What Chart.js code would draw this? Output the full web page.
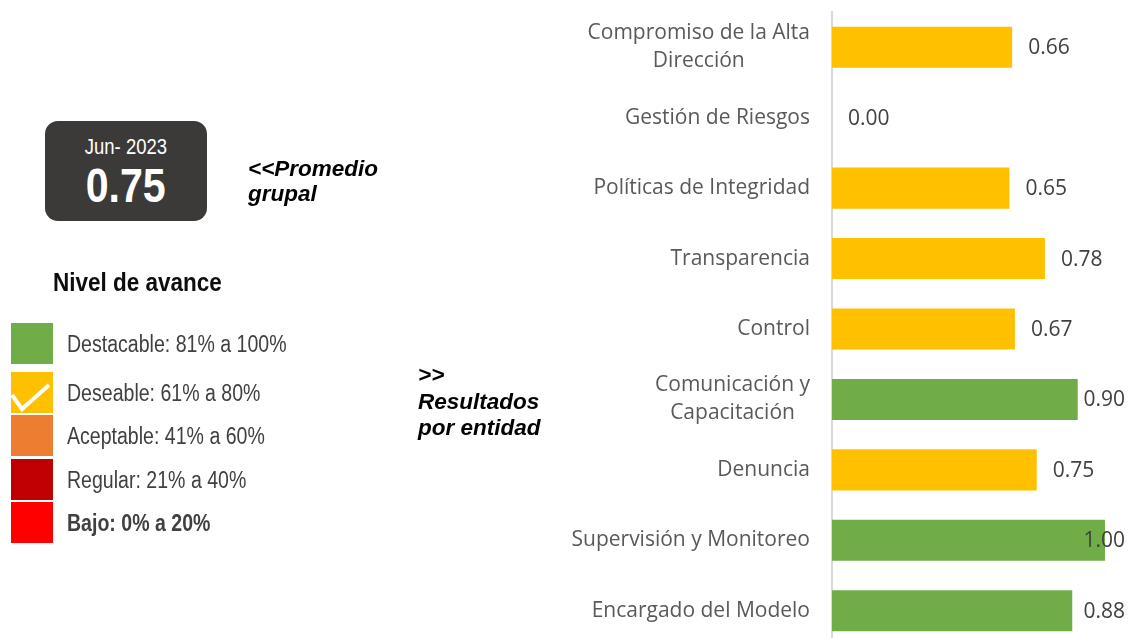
<!DOCTYPE html>
<html>
<head>
<meta charset="utf-8">
<script src="https://cdn.jsdelivr.net/npm/chart.js@4.4.0/dist/chart.umd.min.js"></script>
<style>
  body { margin: 0; background: #fff; width: 1130px; height: 638px; overflow: hidden; position: relative;
         font-family: "Liberation Sans", Arial, sans-serif; }
  #chart { position: absolute; left: 0; top: 0; }
  .narrow { display: inline-block; transform: scaleX(0.84); white-space: nowrap; }
  .box { position: absolute; left: 45px; top: 121px; width: 162px; height: 100px; background: #3b3a38;
         border-radius: 13px; color: #fff; text-align: center; }
  .box .period { position: absolute; left: 0; right: 0; top: 13px; font-size: 22px; }
  .box .avg { position: absolute; left: 0; right: 0; top: 38px; font-size: 49px; font-weight: bold; line-height: 52px; }
  .note { position: absolute; font-weight: bold; font-style: italic; color: #000; }
  .title { position: absolute; left: 53px; top: 268px; font-size: 25px; font-weight: bold; color: #0d0d0d;
           transform: scaleX(0.9); transform-origin: left; white-space: nowrap; }
  .legend .sw { position: absolute; left: 11px; width: 42px; height: 41px; }
  .legend .txt { position: absolute; left: 67px; font-size: 23px; color: #404040; white-space: nowrap;
                 transform: scaleX(0.85); transform-origin: left; }
</style>
</head>
<body>
<canvas id="chart" width="1130" height="660"></canvas>

<div class="box">
  <div class="period"><span class="narrow">Jun- 2023</span></div>
  <div class="avg"><span class="narrow">0.75</span></div>
</div>
<div class="note" style="left:248px;top:156px;font-size:22.5px;line-height:25px">&lt;&lt;Promedio<br>grupal</div>
<div class="title">Nivel de avance</div>
<div class="legend" id="legend"></div>
<div class="note" style="left:418px;top:362px;font-size:22.5px;line-height:26.5px">&gt;&gt;<br>Resultados<br>por entidad</div>

<script>
// Results per entity
const categories = [
  ["Compromiso de la Alta", "Dirección"],
  "Gestión de Riesgos",
  "Políticas de Integridad",
  "Transparencia",
  "Control",
  ["Comunicación y", "Capacitación"],
  "Denuncia",
  "Supervisión y Monitoreo",
  "Encargado del Modelo"
];
const values = [0.66, 0.00, 0.65, 0.78, 0.67, 0.90, 0.75, 1.00, 0.88];
const barColors = ["#FFC000", "#FFC000", "#FFC000", "#FFC000", "#FFC000", "#70AD47", "#FFC000", "#70AD47", "#70AD47"];

// Level legend
const levelLabels = ["Destacable: 81% a 100%", "Deseable: 61% a 80%", "Aceptable: 41% a 60%", "Regular: 21% a 40%", "Bajo: 0% a 20%"];
const levelColors = ["#70AD47", "#FFC000", "#ED7D31", "#C00000", "#FF0000"];
const legendTops = [323, 372, 415, 459, 502];

// build legend rows
const legendEl = document.getElementById("legend");
levelLabels.forEach((txt, i) => {
  const top = legendTops[i];
  let sw = '<div class="sw" style="top:' + top + 'px;background:' + levelColors[i] + '"></div>';
  if (i === 1) {
    // check mark on the current level
    sw = '<svg class="sw" width="42" height="41" style="top:' + top + 'px;background:' + levelColors[i] + '">' +
         '<polyline points="1,23 11,37 38,13" fill="none" stroke="#fff" stroke-width="4"/></svg>';
  }
  const weight = i === levelLabels.length - 1 ? "font-weight:bold;" : "";
  legendEl.insertAdjacentHTML("beforeend", sw +
    '<div class="txt" style="' + weight + 'top:' + (top + 8) + 'px">' + txt + '</div>');
});

// category names drawn left of the axis, wrapped lines centered like Excel
const categoryLabels = {
  id: "categoryLabels",
  afterDraw(chart) {
    const ctx = chart.ctx;
    const yScale = chart.scales.y;
    const right = chart.chartArea.left - 22;
    ctx.save();
    ctx.font = "21px 'Open Sans'";
    ctx.fillStyle = "#595959";
    ctx.textAlign = "center";
    ctx.textBaseline = "middle";
    categories.forEach((label, i) => {
      const lines = Array.isArray(label) ? label : [label];
      const w = Math.max(...lines.map(l => ctx.measureText(l).width));
      const y = yScale.getPixelForValue(i);
      lines.forEach((l, j) => {
        ctx.fillText(l, right - w / 2, y + (j - (lines.length - 1) / 2) * 28);
      });
    });
    ctx.restore();
  }
};

// value labels at bar ends, kept inside the picture
const valueLabels = {
  id: "valueLabels",
  afterDatasetsDraw(chart) {
    const ctx = chart.ctx;
    const bars = chart.getDatasetMeta(0).data;
    ctx.save();
    ctx.font = "21px 'Open Sans'";
    ctx.fillStyle = "#404040";
    ctx.textAlign = "left";
    ctx.textBaseline = "middle";
    bars.forEach((bar, i) => {
      const txt = values[i].toFixed(2);
      const w = ctx.measureText(txt).width;
      const x = Math.min(bar.x + 16, 1125 - w);
      ctx.fillText(txt, x, bar.y + 1);
    });
    ctx.restore();
  }
};

const ctx = document.getElementById("chart").getContext("2d");
const chart = new Chart(ctx, {
  type: "bar",
  data: {
    labels: categories,
    datasets: [
      {
        data: values,
        backgroundColor: barColors,
        borderWidth: 0,
        barPercentage: 0.583,
        categoryPercentage: 1,
      },
    ],
  },
  options: {
    indexAxis: "y",
    responsive: false,
    animation: false,
    layout: { padding: { left: 832, right: 25, top: 12, bottom: 14 } },
    plugins: { legend: { display: false }, tooltip: { enabled: false } },
    scales: {
      x: { min: 0, max: 1, display: false },
      y: {
        ticks: { display: false },
        grid: { display: false, drawTicks: false },
        border: { display: true, color: "#d9d9d9", width: 2 },
        afterFit(scale) { scale.width = 0; },
      },
    },
  },
  plugins: [categoryLabels, valueLabels],
});
</script>
</body>
</html>
